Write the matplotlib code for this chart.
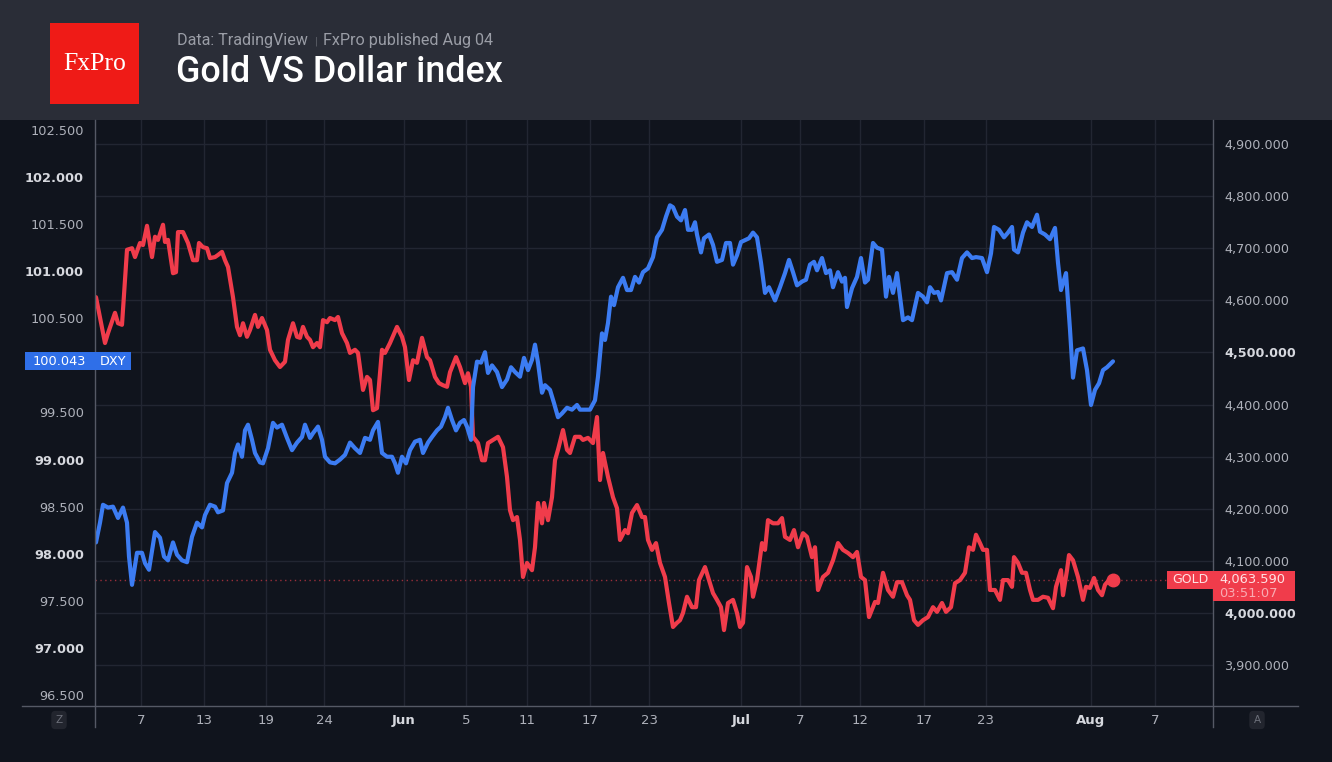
import numpy as np
import matplotlib
matplotlib.use("Agg")
import matplotlib.pyplot as plt
from matplotlib import transforms
from matplotlib.patches import Rectangle
from matplotlib.lines import Line2D

# ---------------- data (x = position on the chart's trading-time axis) ----------------
dxy_points = [
    (0.1, 98.12), (0.5, 98.33), (0.8, 98.52), (1.3, 98.49), (1.8, 98.50), (2.3, 98.38), (2.8, 98.49),
    (3.2, 98.33), (3.4, 97.97), (3.7, 97.67), (4.2, 98.01), (4.7, 98.01), (5.0, 97.90), (5.4, 97.83),
    (6.0, 98.23), (6.5, 98.17), (6.9, 97.97), (7.3, 97.93), (7.8, 98.12), (8.2, 97.99), (8.7, 97.93),
    (9.2, 97.91), (9.7, 98.18), (10.2, 98.33), (10.7, 98.28), (11.0, 98.41), (11.5, 98.52), (12.0, 98.50),
    (12.3, 98.44), (12.8, 98.46), (13.2, 98.75), (13.7, 98.86), (14.0, 99.07), (14.3, 99.16), (14.7, 99.03),
    (15.0, 99.31), (15.3, 99.37), (15.7, 99.21), (16.0, 99.07), (16.5, 98.97), (16.8, 98.96), (17.3, 99.12),
    (17.8, 99.39), (18.2, 99.34), (18.7, 99.37), (19.2, 99.23), (19.7, 99.10), (20.2, 99.18), (20.7, 99.24),
    (21.0, 99.37), (21.5, 99.23), (21.8, 99.28), (22.3, 99.35), (22.7, 99.21), (23.0, 99.03), (23.5, 98.97),
    (24.0, 98.96), (24.5, 99.00), (25.0, 99.05), (25.5, 99.18), (26.0, 99.12), (26.5, 99.07), (27.0, 99.23),
    (27.5, 99.21), (27.8, 99.31), (28.3, 99.40), (28.7, 99.07), (29.2, 99.03), (29.7, 99.03), (30.0, 98.96),
    (30.3, 98.86), (30.7, 99.03), (31.1, 98.96), (31.5, 99.10), (32.0, 99.19), (32.5, 99.21), (32.8, 99.07),
    (33.3, 99.18), (33.7, 99.24), (34.2, 99.31), (34.6, 99.35), (35.0, 99.45), (35.3, 99.55), (35.7, 99.42),
    (36.1, 99.31), (36.5, 99.39), (36.9, 99.42), (37.2, 99.35), (37.6, 99.21), (37.8, 99.77), (38.2, 100.04),
    (38.6, 100.03), (39.0, 100.14), (39.3, 99.92), (39.7, 100.00), (40.2, 99.93), (40.7, 99.77), (41.2, 99.85),
    (41.6, 99.98), (42.0, 99.93), (42.5, 99.88), (42.9, 100.08), (43.3, 99.95), (43.7, 100.06), (44.0, 100.22),
    (44.3, 100.03), (44.7, 99.71), (45.0, 99.79), (45.5, 99.74), (45.9, 99.60), (46.3, 99.45), (46.7, 99.49),
    (47.2, 99.55), (47.7, 99.53), (48.2, 99.58), (48.5, 99.53), (49.0, 99.53), (49.5, 99.53), (50.0, 99.63),
    (50.3, 99.88), (50.7, 100.34), (51.0, 100.27), (51.3, 100.45), (51.6, 100.73), (51.9, 100.64),
    (52.3, 100.83), (52.8, 100.93), (53.2, 100.80), (53.6, 100.80), (54.0, 100.94), (54.4, 100.88),
    (54.8, 100.99), (55.3, 101.03), (55.8, 101.15), (56.2, 101.36), (56.7, 101.44), (57.1, 101.58),
    (57.5, 101.70), (57.8, 101.68), (58.2, 101.58), (58.6, 101.54), (59.0, 101.65), (59.3, 101.44),
    (59.7, 101.44), (60.0, 101.52), (60.2, 101.39), (60.6, 101.20), (60.9, 101.35), (61.4, 101.39),
    (61.8, 101.28), (62.2, 101.10), (62.7, 101.12), (63.1, 101.30), (63.5, 101.30), (63.8, 101.07),
    (64.2, 101.17), (64.6, 101.31), (65.0, 101.33), (65.4, 101.35), (65.8, 101.41), (66.2, 101.36),
    (66.6, 101.09), (67.0, 100.77), (67.4, 100.83), (68.0, 100.69), (68.5, 100.83), (69.0, 100.98),
    (69.4, 101.12), (69.8, 100.99), (70.2, 100.85), (70.7, 100.89), (71.1, 100.91), (71.5, 101.07),
    (71.9, 101.10), (72.2, 101.01), (72.7, 101.14), (73.1, 100.98), (73.5, 101.01), (73.8, 100.83),
    (74.3, 100.99), (74.7, 100.89), (75.0, 100.93), (75.2, 100.62), (75.7, 100.82), (76.2, 100.94),
    (76.6, 101.14), (77.0, 100.88), (77.3, 100.91), (77.8, 101.30), (78.2, 101.25), (78.7, 101.23),
    (79.1, 100.73), (79.4, 100.94), (79.8, 100.77), (80.2, 100.98), (80.8, 100.48), (81.3, 100.51),
    (81.7, 100.48), (82.3, 100.77), (82.8, 100.73), (83.2, 100.67), (83.5, 100.83), (83.9, 100.77),
    (84.3, 100.78), (84.6, 100.69), (85.2, 100.98), (85.7, 100.99), (86.2, 100.91), (86.7, 101.14),
    (87.2, 101.20), (87.7, 101.14), (88.1, 101.15), (88.7, 101.14), (89.2, 100.99), (89.6, 101.19),
    (89.9, 101.47), (90.4, 101.44), (90.9, 101.36), (91.3, 101.41), (91.7, 101.47), (91.9, 101.23),
    (92.3, 101.20), (92.8, 101.41), (93.2, 101.52), (93.7, 101.47), (94.2, 101.60), (94.5, 101.42),
    (95.0, 101.39), (95.5, 101.34), (96.0, 101.46), (96.3, 101.09), (96.6, 100.80), (97.1, 100.98),
    (97.5, 100.38), (97.8, 99.87), (98.2, 100.16), (98.8, 100.18), (99.2, 99.95), (99.6, 99.58),
    (100.0, 99.74), (100.4, 99.81), (100.8, 99.95), (101.2, 99.98), (101.8, 100.043),
]

gold_points = [
    (0.1, 4606), (1.0, 4518), (1.3, 4537), (2.0, 4576), (2.3, 4556), (2.7, 4553), (3.2, 4697), (3.7, 4700),
    (4.0, 4683), (4.5, 4710), (4.8, 4706), (5.2, 4743), (5.7, 4683), (6.0, 4722), (6.3, 4716), (6.8, 4745),
    (7.0, 4712), (7.3, 4716), (7.8, 4652), (8.1, 4654), (8.3, 4731), (8.8, 4731), (9.3, 4710), (9.8, 4677),
    (10.2, 4677), (10.4, 4710), (10.8, 4702), (11.2, 4700), (11.5, 4681), (12.0, 4683), (12.3, 4687),
    (12.7, 4693), (13.0, 4677), (13.3, 4664), (13.8, 4606), (14.2, 4549), (14.5, 4533), (14.8, 4556),
    (15.2, 4530), (15.5, 4543), (16.0, 4572), (16.3, 4549), (16.7, 4566), (17.2, 4543), (17.5, 4505),
    (18.0, 4485), (18.5, 4472), (19.0, 4482), (19.3, 4524), (19.8, 4556), (20.2, 4530), (20.5, 4528),
    (20.8, 4549), (21.2, 4530), (21.5, 4524), (21.8, 4510), (22.2, 4518), (22.5, 4510), (22.8, 4562),
    (23.2, 4558), (23.5, 4566), (24.0, 4562), (24.3, 4568), (24.7, 4537), (25.2, 4518), (25.5, 4499),
    (26.0, 4505), (26.3, 4499), (26.8, 4428), (27.2, 4453), (27.5, 4447), (27.8, 4389), (28.2, 4393),
    (28.7, 4505), (29.0, 4499), (29.5, 4518), (30.2, 4549), (30.7, 4530), (31.0, 4510), (31.4, 4447),
    (31.8, 4485), (32.2, 4480), (32.7, 4528), (33.2, 4491), (33.5, 4485), (34.0, 4453), (34.4, 4441),
    (34.8, 4437), (35.2, 4434), (35.5, 4462), (36.1, 4491), (36.5, 4472), (37.0, 4441), (37.3, 4460),
    (37.6, 4434), (37.8, 4338), (38.3, 4326), (38.7, 4293), (39.0, 4293), (39.3, 4326), (39.8, 4332),
    (40.3, 4338), (40.8, 4318), (41.2, 4261), (41.5, 4197), (41.8, 4178), (42.2, 4184), (42.5, 4140),
    (42.8, 4069), (43.2, 4096), (43.7, 4082), (44.0, 4126), (44.3, 4211), (44.7, 4172), (44.9, 4211),
    (45.3, 4178), (45.7, 4222), (46.0, 4293), (46.3, 4313), (46.8, 4351), (47.2, 4313), (47.5, 4307),
    (48.0, 4338), (48.5, 4338), (48.8, 4332), (49.3, 4336), (49.8, 4326), (50.2, 4376), (50.5, 4255),
    (50.8, 4307), (51.3, 4261), (51.8, 4222), (52.2, 4201), (52.5, 4140), (53.0, 4159), (53.3, 4153),
    (53.7, 4192), (54.2, 4207), (54.7, 4184), (55.0, 4184), (55.3, 4140), (55.7, 4121), (56.1, 4134),
    (56.5, 4096), (57.0, 4069), (57.4, 4019), (57.8, 3973), (58.2, 3981), (58.5, 3986), (58.8, 4000),
    (59.2, 4031), (59.7, 4011), (60.1, 4011), (60.4, 4063), (61.0, 4088), (61.4, 4063), (61.8, 4038),
    (62.2, 4025), (62.6, 4011), (62.9, 3967), (63.3, 4019), (63.8, 4025), (64.2, 4000), (64.5, 3973),
    (64.8, 3981), (65.2, 4088), (65.6, 4069), (65.8, 4031), (66.2, 4063), (66.7, 4134), (67.0, 4121),
    (67.3, 4178), (67.8, 4172), (68.3, 4172), (68.7, 4182), (69.0, 4146), (69.5, 4140), (69.9, 4159),
    (70.3, 4126), (70.8, 4153), (71.2, 4146), (71.7, 4107), (72.0, 4126), (72.3, 4044), (72.8, 4069),
    (73.3, 4077), (73.8, 4101), (74.3, 4134), (74.8, 4121), (75.3, 4115), (75.8, 4107), (76.2, 4117),
    (76.6, 4069), (77.0, 4063), (77.4, 3992), (78.0, 4021), (78.3, 4019), (78.8, 4077), (79.3, 4044),
    (79.8, 4031), (80.2, 4059), (80.7, 4059), (81.2, 4034), (81.5, 4025), (81.9, 3986), (82.3, 3977),
    (82.8, 3986), (83.3, 3992), (83.8, 4011), (84.2, 4002), (84.7, 4019), (85.1, 4002), (85.6, 4011),
    (86.0, 4057), (86.5, 4063), (87.0, 4077), (87.4, 4126), (87.8, 4121), (88.1, 4150), (88.5, 4134),
    (88.8, 4121), (89.2, 4121), (89.5, 4044), (90.0, 4044), (90.5, 4025), (90.8, 4063), (91.3, 4063),
    (91.7, 4050), (91.9, 4107), (92.3, 4096), (92.7, 4077), (93.1, 4077), (93.5, 4044), (93.8, 4025),
    (94.3, 4025), (94.8, 4031), (95.3, 4029), (95.8, 4009), (96.1, 4050), (96.6, 4082), (96.8, 4034),
    (97.2, 4082), (97.4, 4111), (97.8, 4101), (98.3, 4069), (98.8, 4025), (99.1, 4050), (99.5, 4048),
    (99.9, 4067), (100.3, 4044), (100.7, 4034), (101.0, 4054), (101.4, 4063), (101.8, 4063.59),
]

x_tick_pos = [4.6, 10.9, 17.1, 22.9, 30.9, 37.1, 43.2, 49.5, 55.4, 64.6, 70.5, 76.5, 82.9, 89.1, 99.6, 106.0]
x_tick_labels = ["7", "13", "19", "24", "Jun", "5", "11", "17", "23", "Jul", "7", "12", "17", "23", "Aug", "7"]
month_labels = {"Jun", "Jul", "Aug"}
dxy_ticks = [96.5, 97.0, 97.5, 98.0, 98.5, 99.0, 99.5, 100.0, 100.5, 101.0, 101.5, 102.0, 102.5]
gold_ticks = [3900, 4000, 4100, 4200, 4300, 4400, 4500, 4600, 4700, 4800, 4900]
gold_bold = {4000, 4500}
last_time = "03:51:07"

title = "Gold VS Dollar index"
subtitle_a = "Data: TradingView"
subtitle_b = "FxPro published Aug 04"

# ---------------- style ----------------
BG = "#10141d"
HEADER = "#2a2d37"
GRID = "#222632"
AXC = "#555965"
LBL = "#aeb1ba"
LBL_B = "#d6d8de"
BLUE = "#3c7cf2"
RED = "#f03c4b"

W, H = 1332, 762
fig = plt.figure(figsize=(W / 100, H / 100), dpi=100)
fig.patch.set_facecolor(BG)


def fx(px):
    return px / W


def fy(py):
    return 1 - py / H


# header band and logo
fig.add_artist(Rectangle((0, fy(120)), 1, 120 / H, transform=fig.transFigure,
                         facecolor=HEADER, edgecolor="none", zorder=0))
fig.add_artist(Rectangle((fx(50), fy(104)), 89 / W, 81 / H, transform=fig.transFigure,
                         facecolor="#ef1b17", edgecolor="none", zorder=1))
fig.text(fx(95), fy(64), "FxPro", ha="center", va="center", color="white",
         fontsize=18.5, family="Liberation Serif")
fig.text(fx(177), fy(41), subtitle_a, ha="left", va="center", color="#9a9da6",
         fontsize=11.6, family="Roboto")
fig.text(fx(316), fy(42), "|", ha="center", va="center", color="#62656e",
         fontsize=8, family="Roboto")
fig.text(fx(323), fy(41), subtitle_b, ha="left", va="center", color="#9a9da6",
         fontsize=11.6, family="Roboto")
fig.text(fx(176), fy(72), title, ha="left", va="center", color="white",
         fontsize=25.8, family="Roboto", fontweight="medium")

# axes
L, R, T, B = 95, 1213, 120, 706
ax = fig.add_axes([fx(L), fy(B), (R - L) / W, (B - T) / H])
ax.set_facecolor(BG)
ax2 = ax.twinx()

gx, gv = zip(*gold_points)
dx, dv = zip(*dxy_points)

ax.set_xlim(0, 111.8)
ax.set_ylim(3821.3, 4946.1)
ax2.set_ylim(96.383, 102.606)

for a in (ax, ax2):
    for s in a.spines.values():
        s.set_visible(False)

# grid on gold axes (primary)
ax.set_xticks(x_tick_pos)
ax.set_xticklabels(x_tick_labels)
ax.set_yticks(gold_ticks)
ax.set_yticklabels([f"{v:,.3f}" for v in gold_ticks])
ax.grid(True, color=GRID, lw=1)
ax.set_axisbelow(True)
ax.yaxis.tick_right()
ax.tick_params(axis="y", length=0, pad=8, labelsize=9.2, labelcolor=LBL)
ax.tick_params(axis="x", length=0, pad=6, labelsize=9.5, labelcolor=LBL)
for t in ax.get_yticklabels():
    txt = t.get_text().replace(",", "")
    if float(txt) in gold_bold:
        t.set_fontweight("bold")
        t.set_color(LBL_B)
for t in ax.get_xticklabels():
    if t.get_text() in month_labels:
        t.set_fontweight("bold")
        t.set_color(LBL_B)

last_d = dv[-1]
last_g = gv[-1]

ax2.set_yticks(dxy_ticks)
ax2.set_yticklabels([f"{v:.3f}" for v in dxy_ticks])
ax2.yaxis.tick_left()
ax2.tick_params(axis="y", length=0, pad=8, labelsize=9.3, labelcolor=LBL)
for t, v in zip(ax2.get_yticklabels(), dxy_ticks):
    if abs(v - round(v)) < 1e-9:
        t.set_fontweight("bold")
        t.set_color(LBL_B)
    if abs(v - last_d) < 0.15:
        t.set_visible(False)  # hidden behind the DXY price tag

# lines
ax.plot(gx, gv, color=RED, lw=3.0, solid_joinstyle="round", solid_capstyle="round", zorder=3)
ax.plot([gx[-1]], [gv[-1]], "o", color=RED, ms=9, zorder=4)
ax.axhline(gv[-1], xmin=0, xmax=(1167 - L) / (R - L), color="#9a2f3b", lw=1,
           ls=(0, (1, 2.5)), zorder=2)
ax2.plot(dx, dv, color=BLUE, lw=3.0, solid_joinstyle="round", solid_capstyle="round", zorder=3)

# axis frame lines
fig.add_artist(Line2D([fx(L), fx(L)], [fy(T), fy(727)], transform=fig.transFigure, color=AXC, lw=1))
fig.add_artist(Line2D([fx(R), fx(R)], [fy(T), fy(727)], transform=fig.transFigure, color=AXC, lw=1))
fig.add_artist(Line2D([fx(22), fx(1298)], [fy(B), fy(B)], transform=fig.transFigure, color=AXC, lw=1))

# price tags
px_dxy = (102.606 - 96.383) / (B - T)
px_gold = (4946.1 - 3821.3) / (B - T)
tr_d = transforms.blended_transform_factory(fig.transFigure, ax2.transData)
tr_g = transforms.blended_transform_factory(fig.transFigure, ax.transData)
fig.add_artist(Rectangle((fx(25), last_d - 9 * px_dxy), 106 / W, 18 * px_dxy, transform=tr_d,
                         facecolor="#2f6fe8", edgecolor="none", zorder=5))
fig.text(fx(33), last_d, f"{last_d:.3f}", transform=tr_d, ha="left", va="center",
         color="white", fontsize=9.3, zorder=6)
fig.text(fx(100), last_d, "DXY", transform=tr_d, ha="left", va="center",
         color="white", fontsize=9.3, zorder=6)

fig.add_artist(Rectangle((fx(1167), last_g - 9 * px_gold), 46 / W, 18 * px_gold, transform=tr_g,
                         facecolor=RED, edgecolor="none", zorder=5))
fig.add_artist(Rectangle((fx(1213), last_g - 21 * px_gold), 82 / W, 30 * px_gold, transform=tr_g,
                         facecolor=RED, edgecolor="none", zorder=5))
fig.text(fx(1190), last_g, "GOLD", transform=tr_g, ha="center", va="center",
         color="#ffe1e3", fontsize=9, zorder=6)
fig.text(fx(1219), last_g, f"{last_g:,.3f}", transform=tr_g, ha="left", va="center",
         color="#ffe1e3", fontsize=9.4, zorder=6)
fig.text(fx(1219), last_g - 14 * px_gold, last_time, transform=tr_g, ha="left", va="center",
         color="#f9aab2", fontsize=9.4, zorder=6)

# corner badges
for xpix, letter in ((59, "Z"), (1257, "A")):
    fig.text(fx(xpix), fy(720), letter, ha="center", va="center", color="#6d707a", fontsize=7.5,
             bbox=dict(boxstyle="round,pad=0.4", facecolor="#22252e", edgecolor="none"))

fig.savefig("out.png", dpi=100, facecolor=BG)
